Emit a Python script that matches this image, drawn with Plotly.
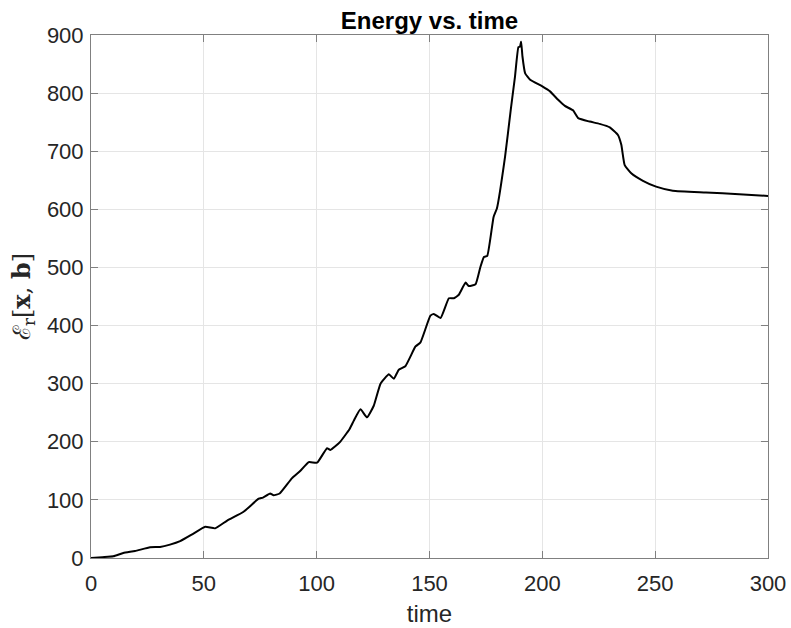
import plotly.graph_objects as go

time_vals = [0, 5, 9.9, 14.3, 19.5, 26.2, 30.6, 35, 39.5, 45.4, 50.6, 55, 60.2, 67.6,
             74.3, 76.2, 79.4, 80.9, 83.6, 89, 92.8, 96.5, 100.2, 104.6, 106.1, 110.2,
             114.6, 116.4, 119.4, 122.3, 125.3, 128.3, 132, 134.2, 136.4, 139.3, 143.8,
             146, 150.4, 151.9, 154.9, 158.6, 160.8, 163, 166, 167.4, 170.4, 172.5, 174.1,
             175.6, 178.4, 179.9, 183.5, 186, 187.9, 189.4, 190.1, 190.6, 191.2, 192.4,
             194.6, 200, 203.4, 207, 210, 213.7, 215.9, 221, 225.4, 229.9, 233.5, 235,
             236.5, 239.4, 244.6, 250.4, 257.8, 272.5, 287.2, 300]
energy_vals = [0, 1.5, 3, 8.6, 12, 18.4, 19, 23, 29, 42, 53.6, 51, 64, 79.5,
               102, 104, 111, 108, 111, 137, 150, 165, 164, 189, 186, 199,
               222, 236, 256, 242, 262, 300, 316, 308.5, 324, 330, 364,
               371, 417, 420, 413, 447, 447, 453, 474, 468, 471, 500, 518,
               520, 587, 602, 691, 771, 829, 879, 880, 889, 863, 834,
               823, 811.5, 803, 788.5, 778, 770, 757, 751, 747, 741, 728, 711,
               676, 662, 649, 639, 632, 629, 626, 623]

x_ticks = [0, 50, 100, 150, 200, 250, 300]
y_ticks = [0, 100, 200, 300, 400, 500, 600, 700, 800, 900]

fig = go.Figure()
fig.add_trace(go.Scatter(x=time_vals, y=energy_vals, mode="lines",
                         line=dict(color="black", width=2, shape="spline", smoothing=0.4)))

axis_common = dict(
    showgrid=True, gridcolor="#e5e5e5", gridwidth=1,
    showline=True, linecolor="#808080", linewidth=1, mirror="ticks",
    ticks="inside", ticklen=7, tickcolor="#808080", tickwidth=1,
    zeroline=False, automargin=False,
    tickfont=dict(family="Liberation Sans, Arial", size=22, color="#262626"),
)

fig.update_layout(
    width=791, height=628,
    margin=dict(l=91, r=23, t=35, b=70, autoexpand=False),
    paper_bgcolor="white", plot_bgcolor="white",
    showlegend=False,
    title=dict(text="<b>Energy vs. time</b>", x=0.5, xref="paper", xanchor="center",
               y=1, yref="paper", yanchor="bottom", pad=dict(b=6),
               font=dict(family="Liberation Sans, Arial", size=24, color="black")),
    xaxis=dict(range=[0, 300], tickvals=x_ticks, ticklabelstandoff=6,
               title=dict(text="time", standoff=9,
                          font=dict(family="Liberation Sans, Arial", size=24, color="#262626")),
               **axis_common),
    yaxis=dict(range=[0, 900], tickvals=y_ticks, ticklabelstandoff=2,
               title=dict(text="ℰ<sub>r</sub>[<b>x</b>, <b>b</b>]", standoff=9,
                          font=dict(family="DejaVu Serif, Liberation Serif", size=24, color="#262626")),
               **axis_common),
)

fig.write_html("out.html")
